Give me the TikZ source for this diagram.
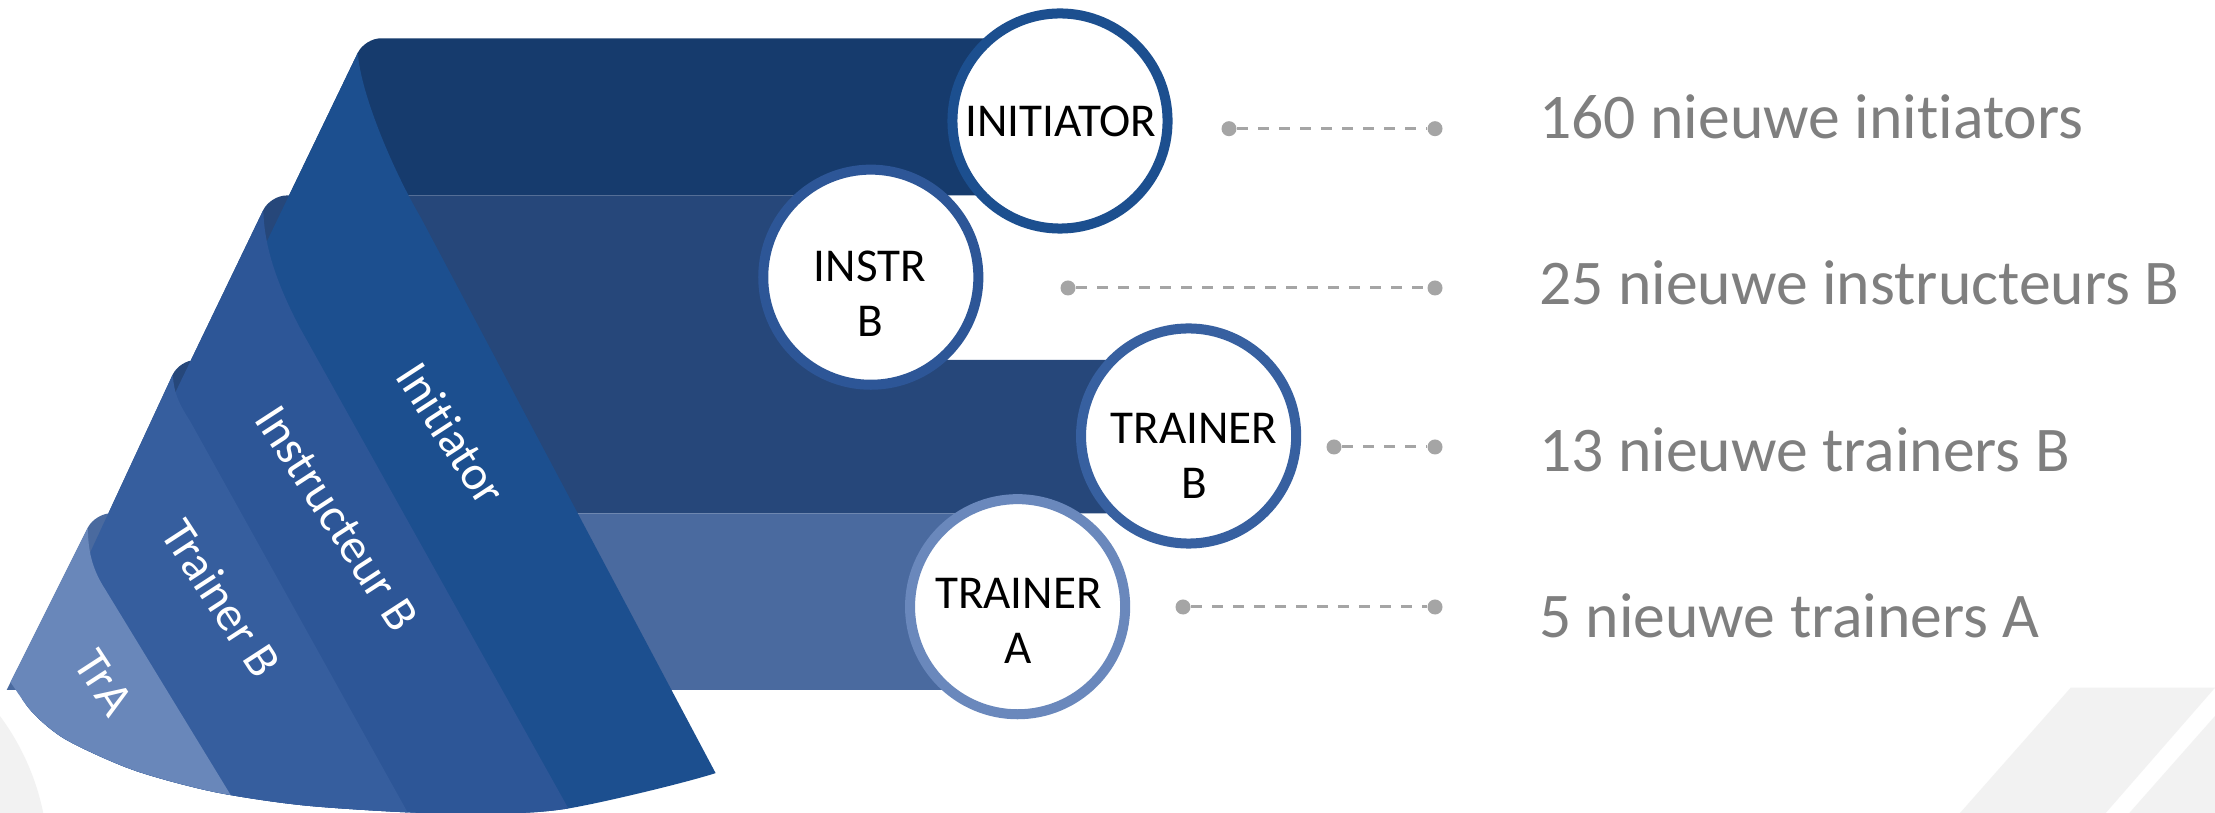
\documentclass[tikz,border=0pt]{standalone}
\usepackage{fontspec}
\setmainfont{Carlito}[Ligatures=NoCommon]
\usepackage{tikz}
\usetikzlibrary{calc}

\definecolor{bandA}{HTML}{163B6D}
\definecolor{bandB}{HTML}{26477A}
\definecolor{bandD}{HTML}{4A6A9F}
\definecolor{stripA}{HTML}{1C4F8F}
\definecolor{stripB}{HTML}{2D5697}
\definecolor{stripC}{HTML}{365E9E}
\definecolor{stripD}{HTML}{6987BA}
\definecolor{ringC}{HTML}{3760A0}
\definecolor{ringD}{HTML}{6A88BC}
\definecolor{dashgray}{HTML}{A5A5A5}
\definecolor{textgray}{HTML}{7F7F7F}
\definecolor{bggray}{HTML}{F2F2F2}

\begin{document}
\begin{tikzpicture}[x=0.01cm, y=-0.01cm]
            \tikzset{
                ring/.style={circle, draw=#1, line width=0.1cm, fill=white, minimum size=2.15cm, inner sep=0pt},
                dot/.style={circle, fill=dashgray, minimum size=0.15cm, inner sep=0pt},
                leader/.style={dashgray, line width=0.03cm, dash pattern=on 0.11cm off 0.1cm},
                circtext/.style={align=center, inner sep=0pt, font=\fontsize{13.4pt}{15.65pt}\selectfont},
                striptext/.style={white, rotate=-57, inner sep=0pt, font=\fontsize{13.9pt}{16pt}\selectfont},
                result/.style={anchor=base west, inner sep=0pt, text=textgray, font=\fontsize{18.1pt}{21pt}\selectfont}
            };
            \useasboundingbox (0,0) rectangle (2215,813);
            \fill[white] (0,0) rectangle (2215,813);
            % background
            \fill[bggray] (-197,862) circle[radius=2.45cm];
            \fill[bggray] (1960,813) -- (2070.7,687.7) -- (2215,687.7) -- (2105.7,813) -- cycle;
            \fill[bggray] (2215,716) -- (2129.3,813) -- (2215,813) -- cycle;
            % leaders
            \foreach \i/\xa/\y in {1/1229/128.7, 2/1068/288, 3/1334/447, 4/1183/607} {
                \node[dot] (p\i) at (\xa,\y) {};
                \node[dot] (q\i) at (1435,\y) {};
                \draw[leader] (p\i) -- (q\i);
            }
            % bands
            \coordinate (a1) at (364.8,38.3);
            \coordinate (a2) at (270.3,195.5);
            \coordinate (a3) at (179.5,360);
            \coordinate (a4) at (95,513.3);
            \fill[bandA] (289,195.5) [rounded corners=0.16cm] -- (a1) -- (1060,38.3) [sharp corners] -- (1060,195.5) -- cycle;
            \fill[bandB] (191,360) [rounded corners=0.16cm] -- (a2) -- (870,195.5) [sharp corners] -- (870,360) -- cycle;
            \fill[bandB] (108.4,513.3) [rounded corners=0.16cm] -- (a3) -- (1189,360) [sharp corners] -- (1189,513.3) -- cycle;
            \fill[bandD] (6.7,690) [rounded corners=0.16cm] -- (a4) -- (1018,513.3) [sharp corners] -- (1018,690) -- cycle;
            % strips
            \coordinate (l1) at (-16.8,830);
            \coordinate (l2) at (-35.5,830);
            \coordinate (l3) at (-38.6,830);
            \coordinate (l4) at (-63.4,830);
            \coordinate (t1) at ($(a1)!0.16cm!(l1)$);
            \coordinate (t2) at ($(a2)!0.16cm!(l2)$);
            \coordinate (t3) at ($(a3)!0.16cm!(l3)$);
            \coordinate (t4) at ($(a4)!0.16cm!(l4)$);
            \begin{scope}
                \clip (-100,0) -- (-100,640) -- plot[smooth] coordinates {(0,668) (11.7,684) (33.3,713.3) (66.7,740) (133.3,770) (213,791.7) (300,805) (400,812) (480,814) (571,808) (716,773) (800,735)} -- (900,0) -- cycle;
                \fill[stripA] (t1) -- (l1) -- (745.8,830) -- (421,218) .. controls (390,165) and (360,90) .. (t1) -- cycle;
                \fill[stripB] (t2) -- (l2) -- (580.4,830) -- (300,328) .. controls (280,290) and (264,250) .. (t2) -- cycle;
                \fill[stripC] (t3) -- (l3) -- (417.4,830) -- (190.3,421.5) .. controls (180,405) and (174,395) .. (t3) -- cycle;
                \fill[stripD] (t4) -- (l4) -- (252,830) -- (105.6,590) .. controls (94,572) and (88,555) .. (t4) -- cycle;
            \end{scope}
            \node[striptext] (s1) at (451.4,433.5) {Initiator};
            \node[striptext] (s2) at (336.7,518.3) {Instructeur B};
            \node[striptext] (s3) at (221.7,598.3) {Trainer B};
            \node[striptext] (s4) at (104,682.7) {TrA};
            % circles
            \node[ring=stripA] (c1) at (1060,121) {};
            \node[ring=stripB] (c2) at (870.8,277.2) {};
            \node[ring=ringC] (c3) at (1188.6,436) {};
            \node[ring=ringD] (c4) at (1017.6,606.7) {};
            \node[circtext] (n1) at (1061,121) {INITIATOR};
            \node[circtext] (n2) at (870,294) {INSTR\\B};
            \node[circtext] (n3) at (1194,456) {TRAINER\\B};
            \node[circtext] (n4) at (1018.5,621) {TRAINER\\A};
            % results
            \node[result] (r1) at (1538.5,139) {160 nieuwe initiators};
            \node[result] (r2) at (1538.5,304.8) {25 nieuwe instructeurs B};
            \node[result] (r3) at (1538.5,471.8) {13 nieuwe trainers B};
            \node[result] (r4) at (1538.5,637.6) {5 nieuwe trainers A};
        \end{tikzpicture}
\end{document}
